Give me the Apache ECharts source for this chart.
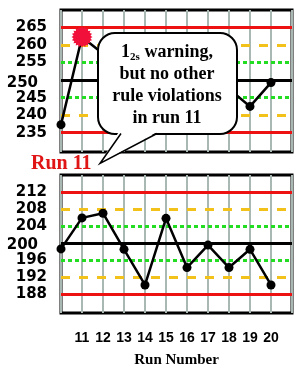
<!DOCTYPE html>
<html>
<head>
<meta charset="utf-8">
<script src="https://cdn.jsdelivr.net/npm/echarts@6/dist/echarts.min.js"></script>
<style>
html, body { margin: 0; padding: 0; background: #fff; }
#picture { width: 296px; height: 369px; }
</style>
</head>
<body>
<div id="picture"></div>
<script>
// run numbers (run 10 sits on the left edge, unlabeled)
var runs = [10, 11, 12, 13, 14, 15, 16, 17, 18, 19, 20];
var runLabels = [11, 12, 13, 14, 15, 16, 17, 18, 19, 20];

// top control (mean 250, sd 5) - runs 12..17 are hidden behind the callout
var topValues = [237.3, 262.3, 257.5, 252, 246, 251, 244, 249, 247.5, 242.5, 249.3];
var topTicks = [235, 240, 245, 250, 255, 260, 265];

// bottom control (mean 200, sd 4)
var bottomValues = [198.6, 205.9, 207.0, 198.5, 190.1, 205.8, 194.2, 199.5, 194.2, 198.5, 190.1];
var bottomTicks = [188, 192, 196, 200, 204, 208, 212];

var flaggedRun = 11;

function burst(n, r1, r2) {
    var d = '';
    for (var i = 0; i < n * 2; i++) {
        var a = Math.PI * i / n;
        var r = i % 2 ? r2 : r1;
        d += (i ? 'L' : 'M') + (r * Math.cos(a)).toFixed(2) + ' ' + (r * Math.sin(a)).toFixed(2);
    }
    return 'path://' + d + 'Z';
}

function pairs(vals) {
    return runs.map(function (r, i) {
        return { value: [r, vals[i]] };
    });
}

// control lines: mean black, 1s green dotted, 2s yellow dashed, 3s red
function controlLines(mean, sd) {
    var red = { type: 'solid', color: '#ee1111', width: 3 };
    var yel = { type: [9, 9], color: '#f2c21a', width: 3 };
    var grn = { type: [4, 3], color: '#22dd22', width: 3 };
    var blk = { type: 'solid', color: '#000', width: 3 };
    return {
        silent: true,
        symbol: 'none',
        label: { show: false },
        data: [
            { yAxis: mean + 3 * sd, lineStyle: red },
            { yAxis: mean + 2 * sd, lineStyle: yel },
            { yAxis: mean + sd, lineStyle: grn },
            { yAxis: mean, lineStyle: blk },
            { yAxis: mean - sd, lineStyle: grn },
            { yAxis: mean - 2 * sd, lineStyle: yel },
            { yAxis: mean - 3 * sd, lineStyle: red }
        ]
    };
}

var topData = pairs(topValues);
topData[runs.indexOf(flaggedRun)] = {
    value: [flaggedRun, topValues[runs.indexOf(flaggedRun)]],
    symbol: burst(20, 11, 9),
    symbolSize: 21,
    itemStyle: { color: '#f0103a' }
};

var yLabelStyle = function (ticks, mean) {
    return {
        customValues: ticks,
        margin: 14,
        color: '#000',
        fontFamily: 'DejaVu Sans',
        fontWeight: 'bold',
        fontSize: 15,
        formatter: function (v) {
            return v === mean ? '{shift|' + v + '}' : '' + v;
        },
        rich: {
            shift: {
                fontFamily: 'DejaVu Sans', fontWeight: 'bold', fontSize: 15, color: '#000',
                padding: [5, 9, 0, 0]
            }
        }
    };
};

var xBase = {
    type: 'value', min: 10, max: 21, interval: 1,
    axisLine: { show: false }, axisTick: { show: false },
    splitLine: { show: true, lineStyle: { color: '#aab8b4', width: 2 } }
};

var myChart = echarts.init(document.getElementById('picture'));
var option = {
    backgroundColor: '#fff',
    animation: false,
    grid: [
        { left: 61, top: 10, width: 231, height: 142, show: true, borderColor: '#000', borderWidth: 3, backgroundColor: 'transparent' },
        { left: 61, top: 175, width: 231, height: 143, show: true, borderColor: '#000', borderWidth: 3, backgroundColor: 'transparent' }
    ],
    xAxis: [
        Object.assign({}, xBase, { gridIndex: 0, axisLabel: { show: false } }),
        Object.assign({}, xBase, {
            gridIndex: 1,
            name: 'Run Number',
            nameLocation: 'middle',
            nameGap: 40,
            nameTextStyle: { fontFamily: 'Liberation Serif', fontWeight: 'bold', fontSize: 15, color: '#000' },
            axisLabel: {
                customValues: runLabels, margin: 18, color: '#000',
                fontFamily: 'Liberation Sans', fontWeight: 'bold', fontSize: 14
            }
        })
    ],
    yAxis: [
        {
            type: 'value', gridIndex: 0, min: 229.5, max: 270,
            axisLine: { show: false }, axisTick: { show: false }, splitLine: { show: false },
            axisLabel: yLabelStyle(topTicks, 250)
        },
        {
            type: 'value', gridIndex: 1, min: 183.5, max: 216,
            axisLine: { show: false }, axisTick: { show: false }, splitLine: { show: false },
            axisLabel: yLabelStyle(bottomTicks, 200)
        }
    ],
    series: [
        {
            type: 'line', xAxisIndex: 0, yAxisIndex: 0, data: topData,
            symbol: 'circle', symbolSize: 9, z: 5,
            lineStyle: { color: '#000', width: 2.5 },
            itemStyle: { color: '#000' },
            markLine: controlLines(250, 5)
        },
        {
            type: 'line', xAxisIndex: 1, yAxisIndex: 1, data: pairs(bottomValues),
            symbol: 'circle', symbolSize: 9, z: 5,
            lineStyle: { color: '#000', width: 2.5 },
            itemStyle: { color: '#000' },
            markLine: controlLines(200, 4)
        }
    ],
    graphic: [
        {
            type: 'rect', z: 100,
            shape: { x: 98, y: 33, width: 139, height: 101, r: 17 },
            style: { fill: '#fff', stroke: '#000', lineWidth: 2 }
        },
        {
            type: 'polygon', z: 101,
            shape: { points: [[119, 131.5], [100, 163.5], [158, 131.5]] },
            style: { fill: '#fff' }
        },
        {
            type: 'polyline', z: 102,
            shape: { points: [[121, 133.5], [100, 163.5], [157, 133.5]] },
            style: { fill: null, stroke: '#000', lineWidth: 1.5 }
        },
        {
            type: 'text', z: 103, x: 167, y: 85,
            style: {
                text: '1{sub|2s} warning,\nbut no other\nrule violations\nin run 11',
                align: 'center', verticalAlign: 'middle',
                fontFamily: 'Liberation Serif', fontWeight: 'bold', fontSize: 18,
                lineHeight: 22, fill: '#000',
                rich: {
                    sub: { fontFamily: 'Liberation Serif', fontWeight: 'bold', fontSize: 11, verticalAlign: 'bottom', padding: [0, 0, 0, 0] }
                }
            }
        },
        {
            type: 'text', z: 103, x: 31, y: 164,
            style: {
                text: 'Run 11', verticalAlign: 'middle',
                fontFamily: 'Liberation Serif', fontWeight: 'bold', fontSize: 20, fill: '#e01515'
            }
        }
    ]
};
myChart.setOption(option);
</script>
</body>
</html>
